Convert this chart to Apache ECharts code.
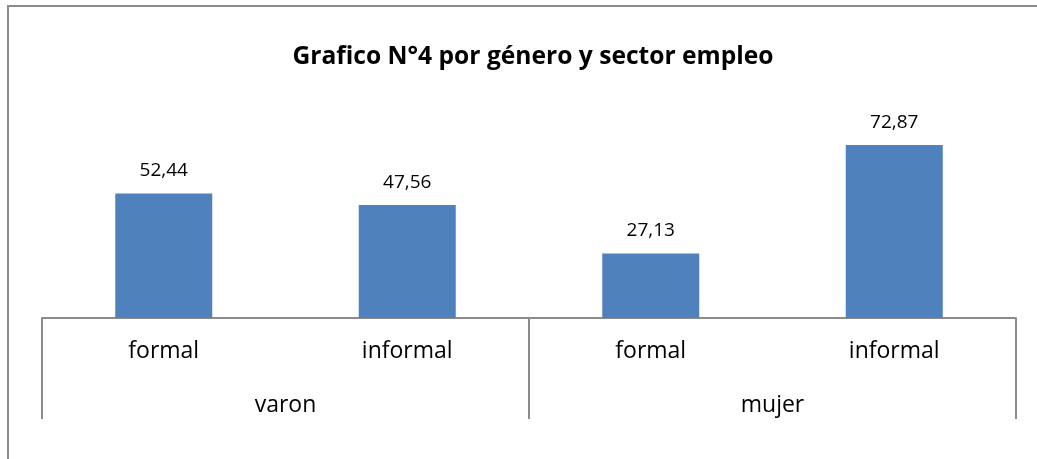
<!DOCTYPE html>
<html>
<head>
<meta charset="utf-8">
<script src="https://cdn.jsdelivr.net/npm/echarts@6/dist/echarts.min.js"></script>
<style>
html,body{margin:0;padding:0;background:#fff;}
#chart{width:1037px;height:459px;}
</style>
</head>
<body>
<div id="chart"></div>
<script>
const titleText = 'Grafico N°4 por género y sector empleo';
const categories = ['formal', 'informal', 'formal', 'informal'];
const groups = ['varon', 'mujer'];
const values = [52.44, 47.56, 27.13, 72.87];

const chart = echarts.init(document.getElementById('chart'), null, {renderer: 'canvas'});
const FONT = 'Open Sans';
chart.setOption({
  animation: false,
  title: {
    text: titleText,
    left: 528,
    top: 39,
    textAlign: 'center',
    textStyle: {fontFamily: FONT, fontWeight: 'bold', fontSize: 24.6, color: '#000'}
  },
  graphic: [{
    type: 'rect',
    shape: {x: 8, y: 6, width: 1100, height: 600},
    style: {fill: 'none', stroke: '#8c8c8c', lineWidth: 2},
    silent: true
  }],
  grid: {left: 42, right: 21, top: 128, bottom: 141},
  xAxis: [{
    type: 'category',
    data: categories,
    axisLine: {show: true, lineStyle: {color: '#8c8c8c', width: 2}},
    axisTick: {show: false},
    axisLabel: {fontFamily: FONT, fontSize: 23, color: '#000', margin: 22}
  }, {
    type: 'category',
    data: groups,
    position: 'bottom',
    offset: 0,
    axisLine: {show: false},
    axisTick: {show: true, length: 101, lineStyle: {color: '#8c8c8c', width: 2}},
    axisLabel: {fontFamily: FONT, fontSize: 23, color: '#000', margin: 76}
  }],
  yAxis: {type: 'value', min: 0, max: 80, show: false, splitLine: {show: false}},
  series: [{
    type: 'bar',
    xAxisIndex: 0,
    data: values,
    barWidth: 97,
    itemStyle: {color: '#4f81bd'},
    label: {
      show: true,
      position: 'top',
      distance: 13,
      fontFamily: FONT,
      fontSize: 19,
      color: '#000',
      formatter: p => p.value.toFixed(2).replace('.', ',')
    }
  }]
});
</script>
</body>
</html>
